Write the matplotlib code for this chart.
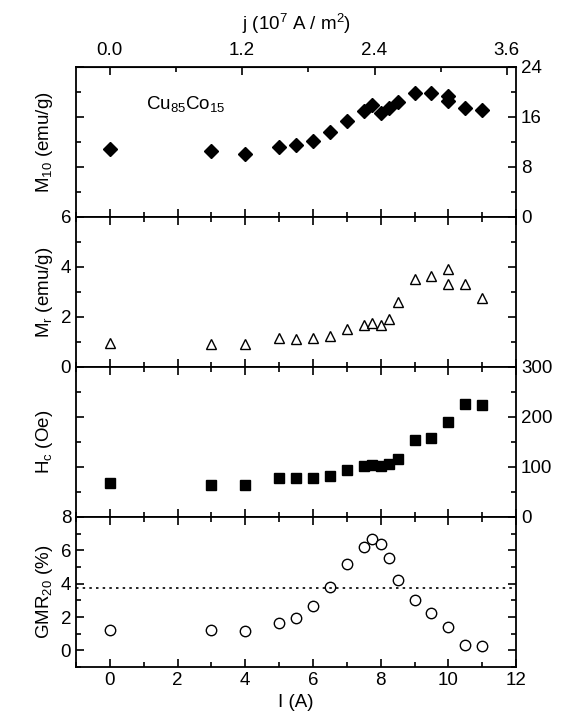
import matplotlib
matplotlib.use("Agg")
import matplotlib.pyplot as plt
from matplotlib.ticker import MultipleLocator

plt.rcParams['font.family'] = ['Liberation Sans', 'DejaVu Sans']
plt.rcParams['font.size'] = 13.5
plt.rcParams['mathtext.default'] = 'regular'

current = [0, 3, 4, 5, 5.5, 6, 6.5, 7, 7.5, 7.75, 8, 8.25, 8.5, 9, 9.5, 10, 10.5, 11]

m10_I = [0, 3, 4, 5, 5.5, 6, 6.5, 7, 7.5, 7.75, 8, 8.25, 8.5, 9, 9.5, 10, 10, 10.5, 11]
m10 = [10.8, 10.6, 10.1, 11.2, 11.5, 12.2, 13.6, 15.4, 17.0, 17.9, 16.6, 17.5, 18.4,
       19.8, 19.9, 19.3, 18.6, 17.4, 17.1]

mr_I = [0, 3, 4, 5, 5.5, 6, 6.5, 7, 7.5, 7.75, 8, 8.25, 8.5, 9, 9.5, 10, 10, 10.5, 11]
mr = [0.94, 0.92, 0.90, 1.14, 1.12, 1.16, 1.25, 1.53, 1.69, 1.75, 1.69, 1.92, 2.6,
      3.5, 3.65, 3.9, 3.3, 3.3, 2.75]

hc = [67, 64, 64, 77, 77, 78, 82, 93, 102, 104, 102, 105, 115, 154, 158, 190, 225, 224]

gmr = [1.24, 1.22, 1.14, 1.64, 1.94, 2.68, 3.82, 5.16, 6.2, 6.7, 6.36, 5.56, 4.2,
       3.04, 2.26, 1.38, 0.32, 0.26]
gmr_ref = 3.76

j_per_A = 0.307  # current density per ampere (10^7 A/m^2)

fig, axes = plt.subplots(4, 1, figsize=(5.69, 7.27), dpi=100, sharex=True)
fig.subplots_adjust(left=0.1336, right=0.907, top=0.908, bottom=0.0825, hspace=0)

for ax in axes:
    ax.set_xlim(-1, 12)
    ax.xaxis.set_major_locator(MultipleLocator(2))
    ax.xaxis.set_minor_locator(MultipleLocator(1))
    ax.tick_params(which='both', direction='in', top=True, bottom=True, left=True, right=True, width=1.2)
    ax.tick_params(which='major', length=6)
    ax.tick_params(which='minor', length=3.5)
    for s in ax.spines.values():
        s.set_linewidth(1.3)

# panel 1: M10 on the right axis
ax = axes[0]
ax.tick_params(axis='x', which='both', top=False)
ax.plot(m10_I, m10, 'D', color='black', ms=7)
ax.set_ylim(0, 24)
ax.yaxis.set_major_locator(MultipleLocator(8))
ax.yaxis.set_minor_locator(MultipleLocator(4))
ax.tick_params(axis='y', labelleft=False, labelright=True)
ax.set_ylabel('M$_{10}$ (emu/g)')
ax.text(0.16, 0.72, 'Cu$_{85}$Co$_{15}$', transform=ax.transAxes, fontsize=13.5)
sec = ax.secondary_xaxis('top', functions=(lambda x: x * j_per_A, lambda j: j / j_per_A))
sec.set_xticks([0, 1.2, 2.4, 3.6])
sec.set_xticklabels(['0.0', '1.2', '2.4', '3.6'])
sec.xaxis.set_minor_locator(MultipleLocator(0.6))
sec.tick_params(which='both', direction='in', width=1.2, pad=6)
sec.tick_params(which='major', length=6)
sec.tick_params(which='minor', length=3.5)
sec.set_xlabel('j (10$^7$ A / m$^2$)', labelpad=8)

# panel 2: Mr
ax = axes[1]
ax.plot(mr_I, mr, '^', mfc='white', mec='black', ms=7.5, mew=1)
ax.set_ylim(0, 6)
ax.yaxis.set_major_locator(MultipleLocator(2))
ax.yaxis.set_minor_locator(MultipleLocator(1))
ax.set_ylabel('M$_r$ (emu/g)')

# panel 3: Hc on the right axis
ax = axes[2]
ax.plot(current, hc, 's', color='black', ms=7.5)
ax.set_ylim(0, 300)
ax.yaxis.set_major_locator(MultipleLocator(100))
ax.yaxis.set_minor_locator(MultipleLocator(50))
ax.tick_params(axis='y', labelleft=False, labelright=True)
ax.set_ylabel('H$_c$ (Oe)')

# panel 4: GMR
ax = axes[3]
ax.plot(current, gmr, 'o', mfc='white', mec='black', ms=7.5, mew=1)
ax.axhline(gmr_ref, color='black', ls=(0, (1.5, 2.5)), lw=1.2)
ax.set_ylim(-1, 8)
ax.set_yticks([0, 2, 4, 6, 8])
ax.yaxis.set_minor_locator(MultipleLocator(1))
ax.set_ylabel('GMR$_{20}$ (%)')
ax.set_xlabel('I (A)')

fig.align_ylabels(axes)
fig.savefig('out.png', dpi=100)
